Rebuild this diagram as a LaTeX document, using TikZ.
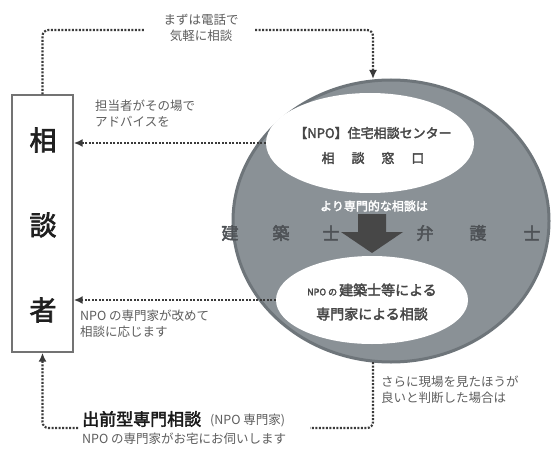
\documentclass[tikz,border=0pt]{standalone}
\usepackage{fontspec}
\setmainfont{Noto Sans CJK JP}[AutoFakeBold=2.5]
\usetikzlibrary{shapes.geometric,arrows.meta}
\definecolor{ringgray}{HTML}{8A9196}
\definecolor{ringedge}{HTML}{6E757A}
\definecolor{dotgray}{HTML}{3A3A3A}
\definecolor{labgray}{HTML}{5E5E5E}
\definecolor{rowgray}{HTML}{4E5256}
\tikzset{
  dotline/.style={draw=dotgray, line width=2.2pt, dash pattern=on 2pt off 1.5pt, rounded corners=6pt},
  tip/.style={-{Latex[length=9pt,width=8pt]}},
  lab/.style={text=labgray, font=\fontsize{12.5}{16}\selectfont, align=left, inner sep=0pt},
  boxchar/.style={text=black!88, font=\fontsize{27}{29}\selectfont\bfseries, inner sep=0pt},
  rowchar/.style={text=rowgray, font=\fontsize{17}{19}\selectfont\bfseries, inner sep=0pt},
  white ell/.style={ellipse, fill=white, draw=none, inner sep=0pt}
}
\begin{document}
\begin{tikzpicture}[x=1pt,y=-1pt]
\useasboundingbox (0,0) rectangle (556,449);
\fill[white] (0,0) rectangle (556,449);

% big grey ellipse
\node[ellipse, fill=ringgray, draw=ringedge, line width=3pt, minimum width=316pt, minimum height=282pt, inner sep=0pt] (big) at (391,221) {};
\node[white ell, minimum width=208pt, minimum height=100pt] (top) at (370,143) {};
\node[white ell, minimum width=192pt, minimum height=88pt] (bot) at (372,300) {};

% texts in ellipses
\node[text=black!72, font=\fontsize{13}{15}\selectfont\bfseries, inner sep=0pt] (t1) at (373,133) {【NPO】住宅相談センター};
\node[text=black!72, font=\fontsize{13}{15}\selectfont\bfseries, inner sep=0pt] (t2) at (373,158) {相\hspace{1.3em}談\hspace{1.3em}窓\hspace{1.3em}口};
\node[text=white, font=\fontsize{12}{14}\selectfont\bfseries, inner sep=0pt] (mid) at (374,206) {より専門的な相談は};
\node[rowchar] (r1) at (230,233) {建};
\node[rowchar] (r2) at (281,233) {築};
\node[rowchar] (r3) at (331,233) {士};
\node[rowchar] (r4) at (425,233) {弁};
\node[rowchar] (r5) at (478,233) {護};
\node[rowchar] (r6) at (532,233) {士};
\fill[black!72] (358,214) -- (386,214) -- (386,232) -- (403,232) -- (372,253) -- (341,232) -- (358,232) -- cycle;
\node[text=black!72, font=\fontsize{14}{16}\selectfont\bfseries, inner sep=0pt] (b1) at (372,290) {{\fontsize{9}{10}\selectfont NPO の }建築士等による};
\node[text=black!72, font=\fontsize{14}{16}\selectfont\bfseries, inner sep=0pt] (b2) at (372,314) {専門家による相談};

% client box
\node[draw=black!55, line width=1.4pt, minimum width=61pt, minimum height=257pt, inner sep=0pt] (box) at (42.5,223.5) {};
\node[boxchar] (c1) at (43,140) {相};
\node[boxchar] (c2) at (43,225) {談};
\node[boxchar] (c3) at (43,310) {者};

% labels
\node[lab, align=center] (l1) at (201,28) {まずは電話で\\気軽に相談};
\node[lab, anchor=west] (l2) at (95,113) {担当者がその場で\\アドバイスを};
\node[lab, anchor=west] (l3) at (80,324) {NPO の専門家が改めて\\相談に応じます};
\node[lab, anchor=west] (l4) at (381,390) {さらに現場を見たほうが\\良いと判断した場合は};
\node[text=black!90, font=\fontsize{17}{19}\selectfont\bfseries, inner sep=0pt, anchor=west] (l5) at (82,419) {出前型専門相談};
\node[lab, anchor=west] (l6) at (210,420) {(NPO 専門家)};
\node[lab, anchor=west] (l7) at (82,439) {NPO の専門家がお宅にお伺いします};

% connectors
\coordinate (tend) at (373,79);
\coordinate (bstart) at (373,362);
\coordinate (ls) at (144,30);
\coordinate (re) at (255,30);
\coordinate (bl) at (310,428);
\coordinate (br) at (78,428);
\draw[dotline] (box.north) |- (ls);
\draw[dotline, tip] (re) -| (tend);
\draw[dotline, tip] (top.west) -- (box.east |- top.west);
\draw[dotline, tip] (bot.west) -- (box.east |- bot.west);
\draw[dotline] (bstart) |- (bl);
\draw[dotline, tip] (br) -| (box.south);
\end{tikzpicture}
\end{document}
